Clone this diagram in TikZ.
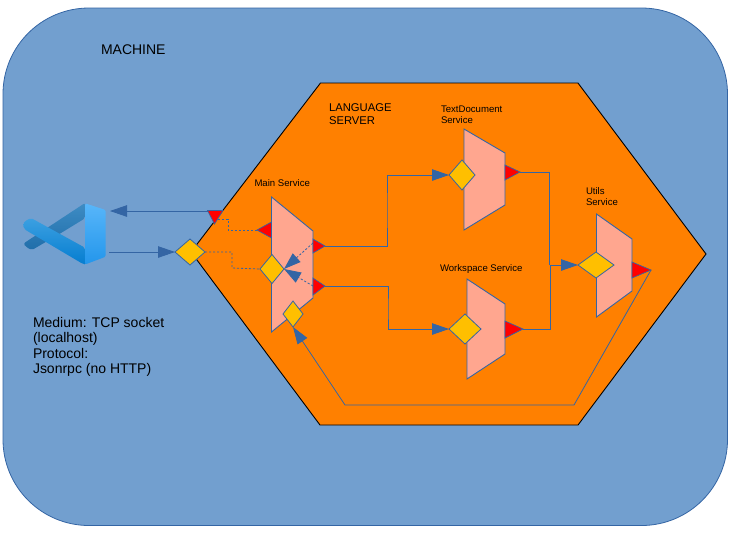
\documentclass[tikz,border=0pt]{standalone}
\usepackage{fontspec}
\setmainfont{Liberation Sans}
\usetikzlibrary{arrows.meta,shapes.geometric}
\definecolor{linkblue}{HTML}{3465A4}
\definecolor{machineblue}{HTML}{729FCF}
\definecolor{serverorange}{HTML}{FF8000}
\definecolor{salmon}{HTML}{FFA68F}
\definecolor{gate}{HTML}{FFBF00}
\tikzset{
  machine/.style={fill=machineblue,draw=linkblue,line width=0.8pt,rounded corners=86pt},
  server/.style={fill=serverorange,draw=black,line width=0.9pt},
  service/.style={fill=salmon,draw=linkblue,line width=0.9pt},
  outtip/.style={fill=red,draw=linkblue,line width=0.7pt},
  gatebox/.style={shape=diamond,fill=gate,draw=linkblue,line width=0.8pt,inner sep=0pt,outer sep=0pt},
  link/.style={draw=linkblue,line width=0.8pt,-{Triangle[length=17pt,width=11.5pt,fill=linkblue]}},
  plainlink/.style={draw=linkblue,line width=0.8pt},
  dashlink/.style={draw=linkblue,line width=0.8pt,dash pattern=on 2.2pt off 1.8pt},
  txt/.style={anchor=base west,inner sep=0pt,outer sep=0pt,text=black},
  small/.style={txt,font=\fontsize{9.6pt}{11pt}\selectfont},
  mid/.style={txt,font=\fontsize{11.25pt}{12.5pt}\selectfont},
  big/.style={txt,font=\fontsize{14pt}{15.7pt}\selectfont},
}
\begin{document}
\begin{tikzpicture}[x=1pt,y=-1pt]
\useasboundingbox (0,0) rectangle (732,542);
\fill[white] (0,0) rectangle (732,542);
\path[machine] (3,8) rectangle (727.5,525.5);
\path[server] (191,252) -- (320.5,83) -- (578,83) -- (706,254) -- (578,425) -- (320,425) -- cycle;

% VS Code icon
\shade[rounded corners=2pt,
       top color={rgb,255:red,62;green,140;blue,196},bottom color={rgb,255:red,32;green,110;blue,170}]
  (85,203) -- (23.5,243.5) -- (26,247) -- (32,250) -- (61,233) -- (85,218.3) -- cycle;
\shade[rounded corners=2pt,top color={rgb,255:red,60;green,160;blue,225},bottom color={rgb,255:red,5;green,125;blue,208}]
  (23,224) -- (25,221) -- (31,218) -- (85,247.7) -- (86,264.5) -- (83,264) -- (24,229) -- cycle;
\shade[top color={rgb,255:red,88;green,182;blue,250},bottom color={rgb,255:red,35;green,150;blue,235},rounded corners=1.5pt]
  (85,203.3) -- (105.7,210) -- (105.7,256.7) -- (85,264.5) -- cycle;

% service bodies
\path[service] (271.5,197) -- (313,231) -- (313,298) -- (271.5,332) -- cycle;
\path[service] (464,129) -- (505,153) -- (505,205) -- (464,230) -- cycle;
\path[service] (467,279) -- (505,304) -- (505,354) -- (467,379) -- cycle;
\path[service] (596.5,214) -- (632,239) -- (632,291) -- (596.5,317) -- cycle;

% free ends of the connectors
\coordinate (iconIn) at (110,211);
\coordinate (iconOut) at (109,252);
\coordinate (portTop) at (215,211);
\coordinate (portDash) at (218,219);
\coordinate (mainInTip) at (257,230);
\coordinate (mainOutA) at (325,246);
\coordinate (mainOutB) at (325,286);
\coordinate (mainOutAd) at (313,243);
\coordinate (mainOutBd) at (313,286);
\coordinate (tdOut) at (520,172);
\coordinate (wsOut) at (523,329);
\coordinate (utOut) at (651,270);
\coordinate (retA) at (574,405);
\coordinate (retB) at (345,405);

% gates
\node[gatebox,minimum width=30pt,minimum height=26pt] (entry) at (190,252) {};
\node[gatebox,minimum width=24pt,minimum height=29pt] (mainGate) at (272,269) {};
\node[gatebox,minimum width=20pt,minimum height=26pt] (lowGate) at (293,314) {};
\node[gatebox,minimum width=26pt,minimum height=30pt] (tdGate) at (462,175) {};
\node[gatebox,minimum width=32pt,minimum height=30pt] (wsGate) at (465,329) {};
\node[gatebox,minimum width=36pt,minimum height=26pt] (utGate) at (596,265) {};

% connectors
\draw[link] (portTop) -- (iconIn);
\draw[link] (iconOut) -- (entry.west);
\draw[dashlink] (portDash) -| (228,230) -- (mainInTip);
\draw[dashlink] (entry.east) -| (232,268) -- (mainGate.west);
\draw[dashlink,-{Triangle[length=17pt,width=11.5pt,fill=linkblue]}] (mainOutAd) -- (mainGate.east);
\draw[dashlink,-{Triangle[length=17pt,width=11.5pt,fill=linkblue]}] (mainOutBd) -- (mainGate.east);
\draw[link] (mainOutA) -| (387,210) |- (tdGate.west);
\draw[link] (mainOutB) -| (388,310) |- (wsGate.west);
\draw[plainlink] (tdOut) -| (549.5,265);
\draw[plainlink] (wsOut) -| (550.5,265);
\draw[link] (549.5,265) -- (utGate.west);
\draw[link] (utOut) -- (retA) -- (retB) -- (lowGate.south);

% red ports
\path[outtip] (207.5,210.5) -- (223,210.5) -- (214.5,224) -- cycle;
\path[outtip] (271.5,222) -- (271.5,238) -- (mainInTip) -- cycle;
\path[outtip] (313,239) -- (313,253) -- (mainOutA) -- cycle;
\path[outtip] (313,278) -- (313,295) -- (mainOutB) -- cycle;
\path[outtip] (505,165) -- (505,180) -- (tdOut) -- cycle;
\path[outtip] (505,321) -- (505,338) -- (wsOut) -- cycle;
\path[outtip] (632,262) -- (632,278) -- (utOut) -- cycle;

% labels
\node[big] (tMachine) at (101,54) {MACHINE};
\node[mid] (tLang) at (329,111.7) {LANGUAGE};
\node[mid] (tServer) at (329,124) {SERVER};
\node[small] (tTd) at (441,112) {TextDocument};
\node[small] (tTdb) at (441,123) {Service};
\node[small] (tMain) at (254.5,186) {Main Service};
\node[small] (tWs) at (440,271) {Workspace Service};
\node[small] (tUt) at (586,194) {Utils};
\node[small] (tUtb) at (586,205) {Service};
\node[big] (tM1) at (33,327) {Medium: TCP socket};
\node[big] (tM2) at (33,342.5) {(localhost)};
\node[big] (tM3) at (33,358) {Protocol:};
\node[big] (tM4) at (33,373.5) {Jsonrpc (no HTTP)};
\end{tikzpicture}
\end{document}
